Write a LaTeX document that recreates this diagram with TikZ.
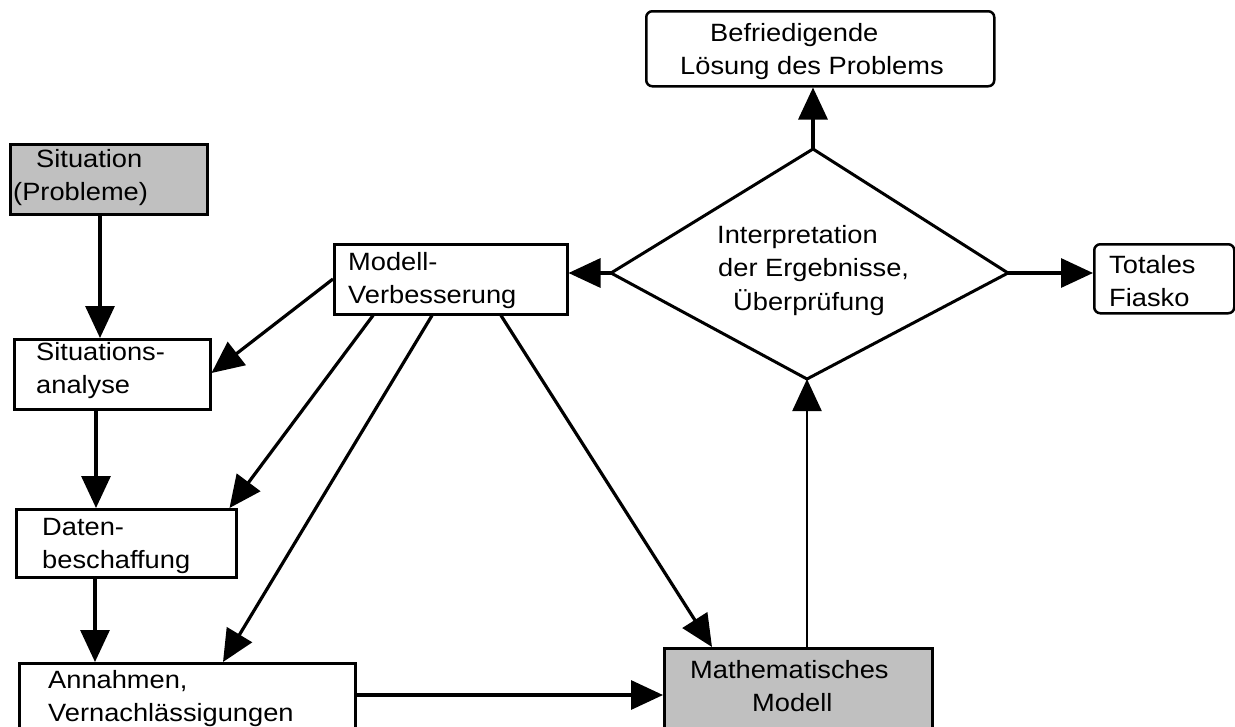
\documentclass[tikz,border=0pt]{standalone}
\usepackage{fontspec}
\setmainfont{Liberation Sans}[FakeStretch=1.09]
\usetikzlibrary{arrows.meta,calc}
\definecolor{boxgray}{HTML}{C0C0C0}
\begin{document}
\begin{tikzpicture}[x=1pt,y=-1pt,
  box/.style={draw=black, line width=2.5pt, fill=white, inner sep=0pt, anchor=north west},
  rbox/.style={box, rounded corners=6pt},
  gbox/.style={box, fill=boxgray},
  txt/.style={anchor=north west, inner sep=0pt, align=left, font=\fontsize{25}{33.5}\selectfont},
  arr/.style={line width=3.2pt, -{Triangle[length=32pt,width=29pt]}},
  thinarr/.style={line width=2.4pt, -{Triangle[length=32pt,width=29pt]}}]
\clip (0,0) rectangle (1235,726);
\fill[white] (0,0) rectangle (1235,726);

% boxes
\node[rbox, minimum width=348pt, minimum height=75pt] (B) at (645,10) {};
\node[gbox, minimum width=197pt, minimum height=70pt] (S) at (9,143) {};
\node[box, minimum width=196pt, minimum height=70pt] (SA) at (13,338) {};
\node[box, minimum width=233pt, minimum height=70pt] (MV) at (333,243) {};
\node[rbox, minimum width=140pt, minimum height=69pt] (TF) at (1093,243) {};
\node[box, minimum width=220pt, minimum height=68pt] (DB) at (15,508) {};
\node[box, minimum width=336pt, minimum height=90pt] (AN) at (18,662) {};
\node[gbox, minimum width=268pt, minimum height=90pt] (MM) at (663,647) {};

% diamond
\coordinate (Dt) at (813,149);
\coordinate (Dl) at (611,273);
\coordinate (Dr) at (1008,273);
\coordinate (Db) at (807,379);
\draw[line width=3pt, line join=miter] (Dt) -- (Dr) -- (Db) -- (Dl) -- cycle;

% texts
\node[txt] (tB) at (680,17.55) {\strut\hspace*{30pt}Befriedigende\\\strut Lösung des Problems};
\node[txt] (tS) at (13,143.55) {\strut\hspace*{23pt}Situation\\\strut(Probleme)};
\node[txt] (tSA) at (36,336.55) {\strut Situations-\\\strut analyse};
\node[txt] (tMV) at (348,246.55) {\strut Modell-\\\strut Verbesserung};
\node[txt] (tD) at (717,219.55) {\strut Interpretation\\\strut\hspace*{1pt}der Ergebnisse,\\\strut\hspace*{16pt}Überprüfung};
\node[txt] (tTF) at (1109,249.55) {\strut Totales\\\strut Fiasko};
\node[txt] (tDB) at (42,511.55) {\strut Daten-\\\strut beschaffung};
\node[txt] (tAN) at (48,664.55) {\strut Annahmen,\\\strut Vernachlässigungen};
\node[txt] (tMM) at (690,654.55) {\strut Mathematisches\\\strut\hspace*{62pt}Modell};

% connectors
\draw[arr] (Dt) -- (Dt |- B.south);
\draw[arr] ($(S.south west)+(91,0)$) -- ($(SA.north west)+(87,0)$);
\draw[arr] ($(SA.south west)+(83,0)$) -- ($(DB.north west)+(81,0)$);
\draw[arr] ($(DB.south west)+(80,0)$) -- ($(AN.north west)+(77,0)$);
\draw[arr] ($(AN.north east)+(0,33)$) -- ($(MM.north west)+(0,48)$);
\draw[thinarr] (Db |- MM.north) -- (Db);
\draw[arr] (Dl) -- (Dl -| MV.east);
\draw[arr] (Dr) -- (Dr -| TF.west);
\draw[arr] ($(MV.north west)+(0,36)$) -- ($(SA.north east)+(0,35)$);
\draw[arr] ($(MV.south west)+(40,0)$) -- ($(DB.north east)+(-8,0)$);
\draw[arr] ($(MV.south west)+(99,0)$) -- ($(AN.north west)+(205,0)$);
\draw[arr] ($(MV.south west)+(168,0)$) -- ($(MM.north west)+(49,0)$);
\end{tikzpicture}
\end{document}
